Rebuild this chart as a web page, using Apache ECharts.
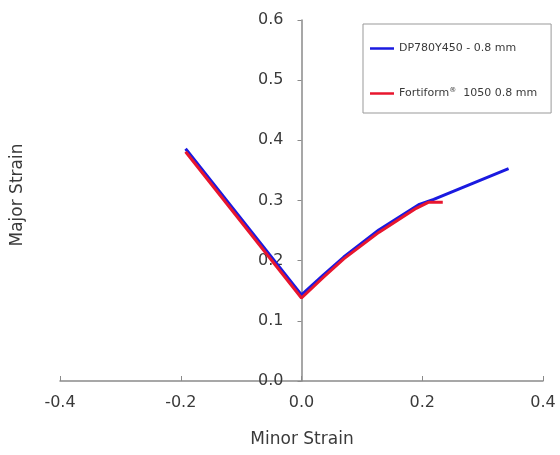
<!DOCTYPE html>
<html><head><meta charset="utf-8">
<script src="https://cdn.jsdelivr.net/npm/echarts@6/dist/echarts.min.js"></script>
<style>html,body{margin:0;padding:0;background:#fff}#c{width:560px;height:455px}</style>
</head><body><div id="c"></div>
<script>
var xTicks = [-0.4, -0.2, 0.0, 0.2, 0.4];
var yTicks = [0.0, 0.1, 0.2, 0.3, 0.4, 0.5, 0.6];
var dpMinor = [-0.192, 0.0, 0.036, 0.07, 0.128, 0.194, 0.219, 0.343];
var dpMajor = [0.386, 0.143, 0.176, 0.206, 0.251, 0.293, 0.302, 0.353];
var ffMinor = [-0.192, 0.0, 0.036, 0.07, 0.128, 0.19, 0.21, 0.234];
var ffMajor = [0.381, 0.138, 0.172, 0.203, 0.247, 0.287, 0.297, 0.297];
var seriesNames = ['DP780Y450 - 0.8 mm', 'Fortiform® 1050 0.8 mm'];

function pairs(xs, ys){ return xs.map(function(x,i){return [x, ys[i]];}); }
var axisColor = '#8a8a8a';
var txt = '#3a3a3a';
var chart = echarts.init(document.getElementById('c'));
chart.setOption({
  animation: false,
  grid: {left: 60, right: 17, top: 20, bottom: 74},
  xAxis: {
    type: 'value', min: xTicks[0], max: xTicks[xTicks.length-1], interval: 0.2,
    axisLine: {onZero: false, lineStyle: {color: axisColor, width: 1.5}},
    axisTick: {show: true, inside: true, length: 5, lineStyle: {color: axisColor}},
    splitLine: {show: false},
    axisLabel: {color: txt, fontSize: 16, fontFamily: 'DejaVu Sans', margin: 14,
      formatter: function(v){ return v.toFixed(1); }}
  },
  yAxis: {
    type: 'value', min: yTicks[0], max: yTicks[yTicks.length-1], interval: 0.1,
    offset: -241.5,
    axisLine: {show: true, onZero: false, lineStyle: {color: axisColor, width: 1.5}},
    axisTick: {show: true, inside: false, length: 4, lineStyle: {color: axisColor}},
    splitLine: {show: false},
    axisLabel: {color: txt, fontSize: 16, fontFamily: 'DejaVu Sans', margin: 18,
      formatter: function(v){ return v.toFixed(1); }}
  },
  legend: {
    orient: 'vertical', left: 363, top: 24,
    padding: [19, 14, 14, 7], itemGap: 33, itemWidth: 24, itemHeight: 2.5,
    borderColor: '#999', borderWidth: 1,
    icon: 'rect',
    data: seriesNames,
    formatter: function(n){
      if (n.indexOf('Fortiform') === 0) return '{a|Fortiform}{s|®}{a|  1050 0.8 mm}';
      return '{a|' + n + '}';
    },
    textStyle: {color: txt, fontFamily: 'DejaVu Sans', fontSize: 11,
      rich: {a: {fontSize: 11, color: txt, fontFamily: 'DejaVu Sans'},
             s: {fontSize: 7, color: txt, verticalAlign: 'top', padding: [0,0,6,0], fontFamily: 'DejaVu Sans'}}}
  },
  graphic: [
    {type: 'text', z: 10, position: [18, 195], rotation: Math.PI/2,
      style: {text: 'Major Strain', fill: txt, font: '17px "DejaVu Sans"', align: 'center', verticalAlign: 'middle'}},
    {type: 'text', z: 10, position: [302, 440],
      style: {text: 'Minor Strain', fill: txt, font: '17px "DejaVu Sans"', align: 'center', verticalAlign: 'middle'}}
  ],
  series: [
    {name: seriesNames[0], type: 'line', data: pairs(dpMinor, dpMajor), showSymbol: false, symbol: 'none',
      lineStyle: {color: '#1a1ae0', width: 3}, itemStyle: {color: '#1a1ae0'}, z: 2},
    {name: seriesNames[1], type: 'line', data: pairs(ffMinor, ffMajor), showSymbol: false, symbol: 'none',
      lineStyle: {color: '#e8162e', width: 3}, itemStyle: {color: '#e8162e'}, z: 3}
  ]
});
</script></body></html>
